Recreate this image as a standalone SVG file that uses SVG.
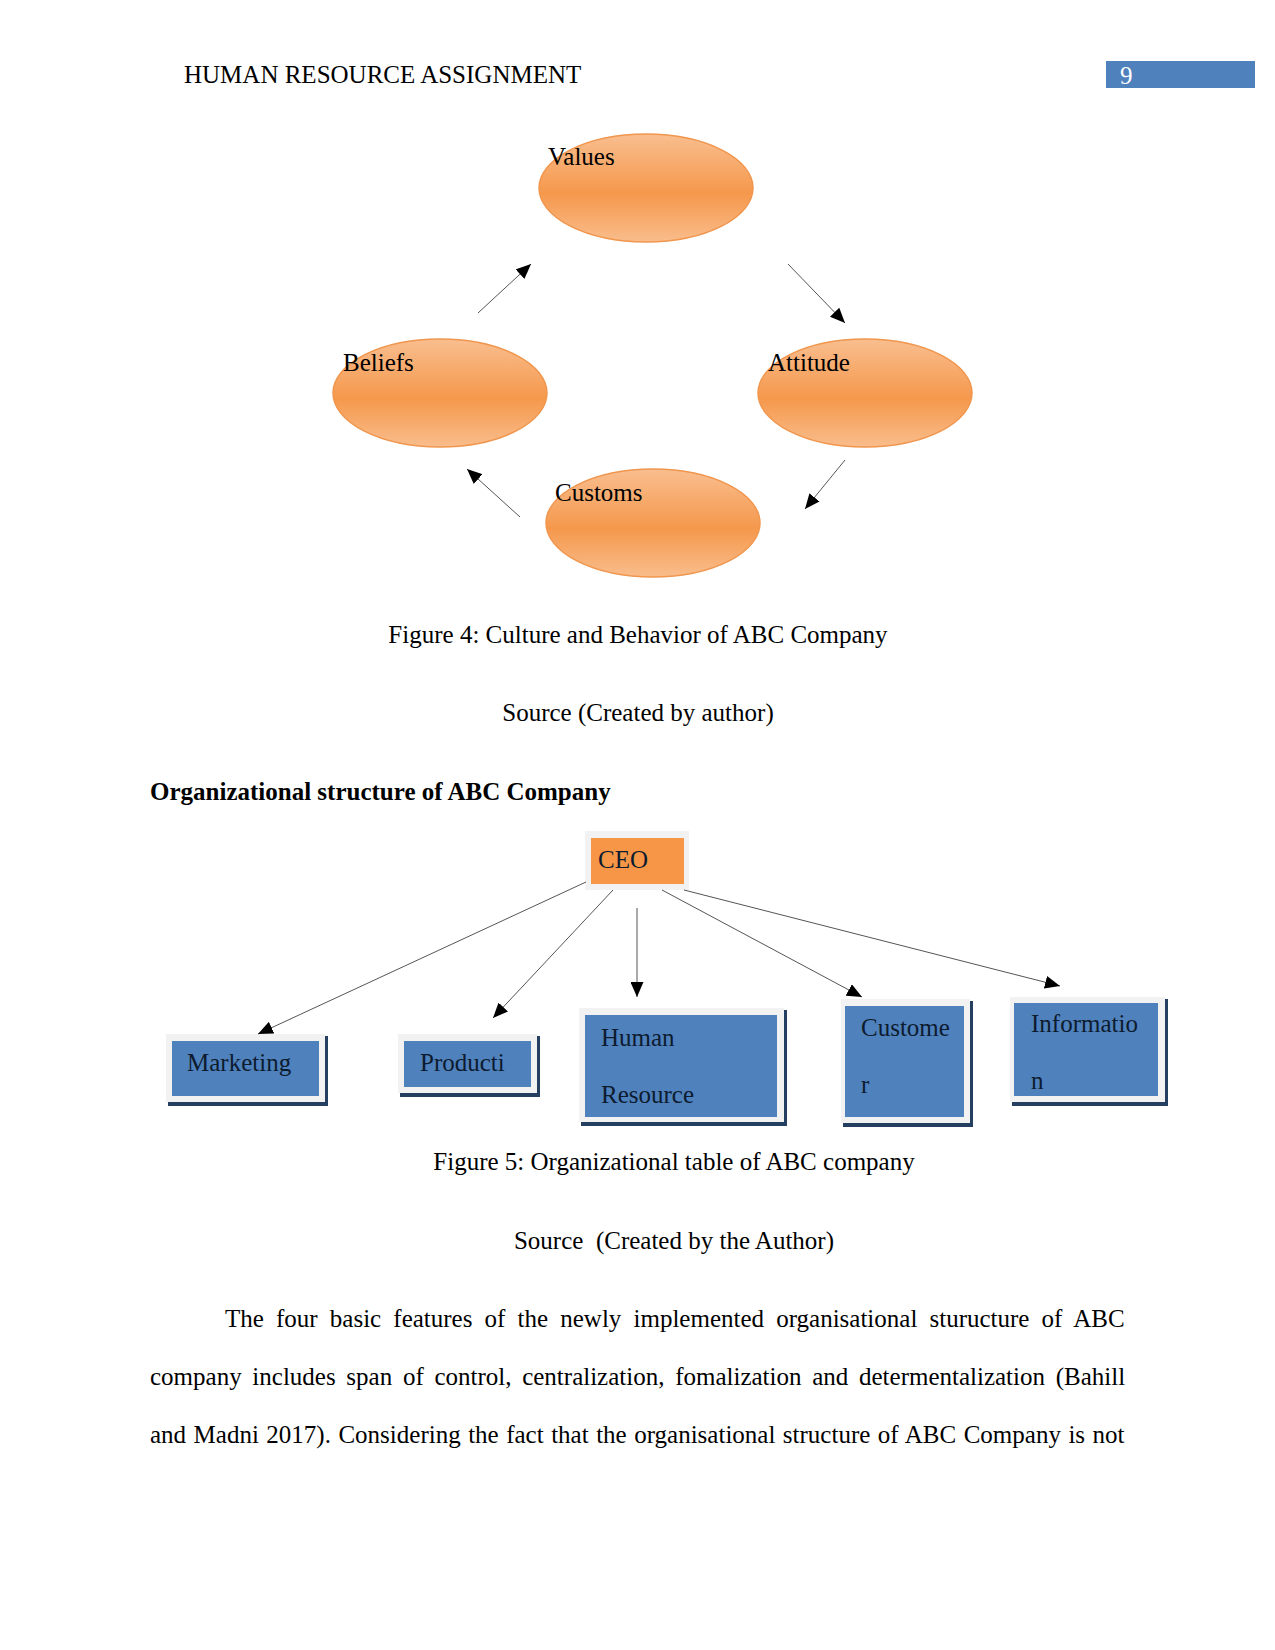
<svg xmlns="http://www.w3.org/2000/svg" width="1275" height="1650" viewBox="0 0 1275 1650">
<defs>
<style>
text{font-family:"Liberation Serif","Times New Roman",serif;font-size:25px;fill:#000}
.b{font-weight:bold}
.c{text-anchor:middle}
.lbl{font-size:25px;fill:#0d1b2e}
.con{stroke:#555;stroke-width:1;fill:none;marker-end:url(#ah)}
.frame{fill:#f2f2f2}
.shadow{fill:#243f60}
.blue{fill:#4f81bd}
.ell{fill:url(#og);stroke:#f0964e;stroke-width:1.5}
</style>
<linearGradient id="og" x1="0" y1="0" x2="0" y2="1">
<stop offset="0" stop-color="#f9be8f"/>
<stop offset="0.55" stop-color="#f5984c"/>
<stop offset="1" stop-color="#f9bd8c"/>
</linearGradient>
<marker id="ah" viewBox="0 0 15 13" refX="15" refY="6.5" markerWidth="15" markerHeight="13" orient="auto" markerUnits="userSpaceOnUse">
<path d="M0,0 L15,6.5 L0,13 z" fill="#000"/>
</marker>
</defs>
<rect width="1275" height="1650" fill="#fff"/>

<g id="header">
<text x="184" y="83">HUMAN RESOURCE ASSIGNMENT</text>
<rect x="1106" y="61" width="149" height="27" fill="#4f81bd"/>
<text x="1120" y="84" style="fill:#fff">9</text>
</g>

<g id="values"><ellipse class="ell" cx="646" cy="188" rx="107" ry="54"/><text x="548" y="165">Values</text></g>
<g id="beliefs"><ellipse class="ell" cx="440" cy="393" rx="107" ry="54"/><text x="343" y="371">Beliefs</text></g>
<g id="attitude"><ellipse class="ell" cx="865" cy="393" rx="107" ry="54"/><text x="768" y="371">Attitude</text></g>
<g id="customs"><ellipse class="ell" cx="653" cy="523" rx="107" ry="54"/><text x="555" y="501">Customs</text></g>

<g id="culture-connectors">
<line class="con" x1="478" y1="313" x2="531" y2="264"/>
<line class="con" x1="788" y1="264" x2="845" y2="323"/>
<line class="con" x1="845" y1="460" x2="805" y2="509"/>
<line class="con" x1="520" y1="517" x2="467" y2="469"/>
</g>

<g id="captions">
<text class="c" x="638" y="643">Figure 4: Culture and Behavior of ABC Company</text>
<text class="c" x="638" y="721">Source (Created by author)</text>
<text class="b" x="150" y="800">Organizational structure of ABC Company</text>
<text class="c" x="674" y="1170">Figure 5: Organizational table of ABC company</text>
<text class="c" x="674" y="1249" xml:space="preserve">Source  (Created by the Author)</text>
</g>

<g id="ceo">
<rect class="frame" x="585" y="831" width="104" height="59"/>
<rect x="591" y="838" width="93" height="46" fill="#f79646"/>
<text class="lbl" x="598" y="868">CEO</text>
</g>
<g id="marketing">
<rect class="shadow" x="168" y="1036" width="160" height="70"/>
<rect class="frame" x="166" y="1034" width="159" height="68"/>
<rect class="blue" x="172" y="1041" width="147" height="55"/>
<text class="lbl" x="187" y="1071">Marketing</text>
</g>
<g id="production">
<rect class="shadow" x="400" y="1036" width="140" height="61"/>
<rect class="frame" x="398" y="1034" width="139" height="59"/>
<rect class="blue" x="404" y="1041" width="127" height="46"/>
<text class="lbl" x="420" y="1071">Producti</text>
</g>
<g id="human-resource">
<rect class="shadow" x="581" y="1010" width="206" height="116"/>
<rect class="frame" x="579" y="1008" width="205" height="114"/>
<rect class="blue" x="585" y="1015" width="192" height="102"/>
<text class="lbl" x="601" y="1046">Human</text>
<text class="lbl" x="601" y="1103">Resource</text>
</g>
<g id="customer">
<rect class="shadow" x="843" y="1001" width="130" height="126"/>
<rect class="frame" x="841" y="999" width="129" height="124"/>
<rect class="blue" x="845" y="1006" width="119" height="111"/>
<text class="lbl" x="861" y="1036">Custome</text>
<text class="lbl" x="861" y="1093">r</text>
</g>
<g id="information">
<rect class="shadow" x="1012" y="999" width="156" height="107"/>
<rect class="frame" x="1010" y="997" width="155" height="105"/>
<rect class="blue" x="1014" y="1003" width="144" height="93"/>
<text class="lbl" x="1031" y="1032">Informatio</text>
<text class="lbl" x="1031" y="1089">n</text>
</g>

<g id="org-connectors">
<line class="con" x1="586" y1="882" x2="258" y2="1034"/>
<line class="con" x1="613" y1="890" x2="493" y2="1018"/>
<line class="con" x1="637" y1="908" x2="637" y2="997"/>
<line class="con" x1="662" y1="890" x2="862" y2="997"/>
<line class="con" x1="684" y1="890" x2="1060" y2="986"/>
</g>

<g id="paragraph">
<text x="225" y="1327" word-spacing="5.9">The four basic features of the newly implemented organisational sturucture of ABC</text>
<text x="150" y="1385" word-spacing="4.45">company includes span of control, centralization, fomalization and determentalization (Bahill</text>
<text x="150" y="1443" word-spacing="1.25">and Madni 2017). Considering the fact that the organisational structure of ABC Company is not</text>
</g>
</svg>
